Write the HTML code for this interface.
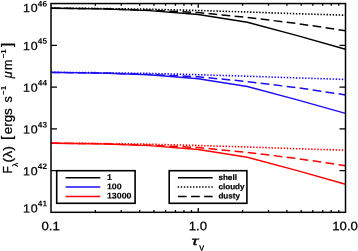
<!DOCTYPE html><html><head><meta charset="utf-8"><style>html,body{margin:0;padding:0;background:#fff}svg{display:block}</style></head><body><svg width="358" height="251" viewBox="0 0 358 251">
<rect width="358" height="251" fill="#fff"/>
<path d="M51.00 8.20 L100.08 8.90 L149.17 10.60 L198.25 14.50 L247.33 22.30 L296.42 35.40 L345.50 49.20" fill="none" stroke="#000" stroke-width="1.45"/>
<path d="M51.00 8.20 L100.08 8.70 L149.17 10.20 L198.25 12.60 L247.33 17.40 L296.42 23.40 L345.50 30.70" fill="none" stroke="#000" stroke-width="1.5" stroke-dasharray="8.7 4.4" stroke-dashoffset="-0.5"/>
<path d="M51.00 8.10 L100.08 8.50 L149.17 9.20 L198.25 10.50 L247.33 12.00 L296.42 13.70 L345.50 15.20" fill="none" stroke="#000" stroke-width="1.6" stroke-dasharray="1.4 1.66" stroke-dashoffset="-0.2"/>
<path d="M51.00 72.40 L100.08 73.10 L149.17 74.80 L198.25 78.70 L247.33 86.50 L296.42 99.60 L345.50 113.40" fill="none" stroke="#1c0cf4" stroke-width="1.45"/>
<path d="M51.00 72.40 L100.08 72.90 L149.17 74.40 L198.25 76.80 L247.33 81.60 L296.42 87.60 L345.50 94.90" fill="none" stroke="#1c0cf4" stroke-width="1.5" stroke-dasharray="8.7 4.4" stroke-dashoffset="-0.5"/>
<path d="M51.00 72.30 L100.08 72.70 L149.17 73.40 L198.25 74.70 L247.33 76.20 L296.42 77.90 L345.50 79.40" fill="none" stroke="#1c0cf4" stroke-width="1.6" stroke-dasharray="1.4 1.66" stroke-dashoffset="-0.2"/>
<path d="M51.00 143.20 L100.08 143.90 L149.17 145.60 L198.25 149.50 L247.33 157.30 L296.42 170.40 L345.50 184.20" fill="none" stroke="#ff0000" stroke-width="1.45"/>
<path d="M51.00 143.20 L100.08 143.70 L149.17 145.20 L198.25 147.60 L247.33 152.40 L296.42 158.40 L345.50 165.70" fill="none" stroke="#ff0000" stroke-width="1.5" stroke-dasharray="8.7 4.4" stroke-dashoffset="-0.5"/>
<path d="M51.00 143.10 L100.08 143.50 L149.17 144.20 L198.25 145.50 L247.33 147.00 L296.42 148.70 L345.50 150.20" fill="none" stroke="#ff0000" stroke-width="1.6" stroke-dasharray="1.4 1.66" stroke-dashoffset="-0.2"/>
<rect x="51.00" y="3.55" width="294.50" height="208.75" fill="none" stroke="#000" stroke-width="1.5"/>
<path d="M95.33 212.30 v-2.20 M95.33 3.55 v2.20 M121.26 212.30 v-2.20 M121.26 3.55 v2.20 M139.65 212.30 v-2.20 M139.65 3.55 v2.20 M153.92 212.30 v-2.20 M153.92 3.55 v2.20 M165.58 212.30 v-2.20 M165.58 3.55 v2.20 M175.44 212.30 v-2.20 M175.44 3.55 v2.20 M183.98 212.30 v-2.20 M183.98 3.55 v2.20 M191.51 212.30 v-2.20 M191.51 3.55 v2.20 M198.25 212.30 v-4.30 M198.25 3.55 v4.30 M242.58 212.30 v-2.20 M242.58 3.55 v2.20 M268.51 212.30 v-2.20 M268.51 3.55 v2.20 M286.90 212.30 v-2.20 M286.90 3.55 v2.20 M301.17 212.30 v-2.20 M301.17 3.55 v2.20 M312.83 212.30 v-2.20 M312.83 3.55 v2.20 M322.69 212.30 v-2.20 M322.69 3.55 v2.20 M331.23 212.30 v-2.20 M331.23 3.55 v2.20 M338.76 212.30 v-2.20 M338.76 3.55 v2.20 M51.00 170.55 h6 M345.50 170.55 h-6 M51.00 128.80 h6 M345.50 128.80 h-6 M51.00 87.05 h6 M345.50 87.05 h-6 M51.00 45.30 h6 M345.50 45.30 h-6" stroke="#000" stroke-width="1.3" fill="none"/>
<rect x="56.7" y="170.7" width="78.4" height="32.6" fill="#fff" stroke="#000" stroke-width="1.6"/>
<rect x="169.2" y="170.7" width="77.7" height="32.6" fill="#fff" stroke="#000" stroke-width="1.6"/>
<path d="M65.6 177.7 H100.3" stroke="#000" stroke-width="1.5"/>
<path d="M65.6 187.1 H100.3" stroke="#1c0cf4" stroke-width="1.5"/>
<path d="M65.6 196.4 H100.3" stroke="#ff0000" stroke-width="1.5"/>
<path d="M178.0 177.7 H212.7" stroke="#000" stroke-width="1.5"/>
<path d="M177.7 187.0 H213" stroke="#000" stroke-width="1.6" stroke-dasharray="1.4 1.66"/>
<path d="M178.0 196.4 H212.7" stroke="#000" stroke-width="1.5" stroke-dasharray="8.7 4.4"/>
<text transform="translate(106.9 179.9) scale(1.07 1) rotate(0.03)" font-family="Liberation Sans, sans-serif" font-size="8.3" font-weight="bold" stroke="#000" stroke-width="0.15">1</text>
<text transform="translate(106.9 189.2) scale(1.07 1) rotate(0.03)" font-family="Liberation Sans, sans-serif" font-size="8.3" font-weight="bold" stroke="#000" stroke-width="0.15">100</text>
<text transform="translate(106.9 198.6) scale(1.07 1) rotate(0.03)" font-family="Liberation Sans, sans-serif" font-size="8.3" font-weight="bold" stroke="#000" stroke-width="0.15">13000</text>
<text transform="translate(218.4 179.9) scale(1.03 1) rotate(0.03)" font-family="Liberation Sans, sans-serif" font-size="7.9" font-weight="bold" stroke="#000" stroke-width="0.2">shell</text>
<text transform="translate(218.4 189.2) scale(1.03 1) rotate(0.03)" font-family="Liberation Sans, sans-serif" font-size="7.9" font-weight="bold" stroke="#000" stroke-width="0.2">cloudy</text>
<text transform="translate(218.4 198.6) scale(1.03 1) rotate(0.03)" font-family="Liberation Sans, sans-serif" font-size="7.9" font-weight="bold" stroke="#000" stroke-width="0.2">dusty</text>
<text transform="translate(22.9 212.5) scale(1.05 1) rotate(0.03)" font-family="Liberation Sans, sans-serif" font-size="11.8" letter-spacing="0.9" stroke="#000" stroke-width="0.25">10</text>
<text transform="translate(37.8 206.3) scale(1.03 1) rotate(0.03)" font-family="Liberation Sans, sans-serif" font-size="8" font-weight="bold">41</text>
<text transform="translate(22.9 175.3) scale(1.05 1) rotate(0.03)" font-family="Liberation Sans, sans-serif" font-size="11.8" letter-spacing="0.9" stroke="#000" stroke-width="0.25">10</text>
<text transform="translate(37.8 169.1) scale(1.03 1) rotate(0.03)" font-family="Liberation Sans, sans-serif" font-size="8" font-weight="bold">42</text>
<text transform="translate(22.9 133.6) scale(1.05 1) rotate(0.03)" font-family="Liberation Sans, sans-serif" font-size="11.8" letter-spacing="0.9" stroke="#000" stroke-width="0.25">10</text>
<text transform="translate(37.8 127.4) scale(1.03 1) rotate(0.03)" font-family="Liberation Sans, sans-serif" font-size="8" font-weight="bold">43</text>
<text transform="translate(22.9 91.8) scale(1.05 1) rotate(0.03)" font-family="Liberation Sans, sans-serif" font-size="11.8" letter-spacing="0.9" stroke="#000" stroke-width="0.25">10</text>
<text transform="translate(37.8 85.6) scale(1.03 1) rotate(0.03)" font-family="Liberation Sans, sans-serif" font-size="8" font-weight="bold">44</text>
<text transform="translate(22.9 50.0) scale(1.05 1) rotate(0.03)" font-family="Liberation Sans, sans-serif" font-size="11.8" letter-spacing="0.9" stroke="#000" stroke-width="0.25">10</text>
<text transform="translate(37.8 43.8) scale(1.03 1) rotate(0.03)" font-family="Liberation Sans, sans-serif" font-size="8" font-weight="bold">45</text>
<text transform="translate(22.9 12.1) scale(1.05 1) rotate(0.03)" font-family="Liberation Sans, sans-serif" font-size="11.8" letter-spacing="0.9" stroke="#000" stroke-width="0.25">10</text>
<text transform="translate(37.8 6.6) scale(1.03 1) rotate(0.03)" font-family="Liberation Sans, sans-serif" font-size="8" font-weight="bold">46</text>
<text transform="translate(50.6 230.2) scale(1.08 1) rotate(0.03)" font-family="Liberation Sans, sans-serif" font-size="12.2" text-anchor="middle" stroke="#000" stroke-width="0.25">0.1</text>
<text transform="translate(197.8 230.2) scale(1.08 1) rotate(0.03)" font-family="Liberation Sans, sans-serif" font-size="12.2" text-anchor="middle" stroke="#000" stroke-width="0.25">1.0</text>
<text transform="translate(345.1 230.2) scale(1.08 1) rotate(0.03)" font-family="Liberation Sans, sans-serif" font-size="12.2" text-anchor="middle" stroke="#000" stroke-width="0.25">10.0</text>
<text transform="translate(191.5 244.9) scale(1.5 1) rotate(0.03)" font-family="Liberation Sans, sans-serif" font-size="12" font-style="italic" stroke="#000" stroke-width="0.35">τ</text>
<text transform="translate(199.1 250.8) rotate(0.03)" font-family="Liberation Sans, sans-serif" font-size="8" font-weight="bold">V</text>
<g transform="translate(11.6 173.5) rotate(-90)"><text x="0.1" y="0.0" font-family="Liberation Sans, sans-serif" font-size="12.0" stroke="#000" stroke-width="0.25">F</text><text x="6.6" y="6.3" font-family="Liberation Sans, sans-serif" font-size="8.0" font-weight="bold">λ</text><text x="11.0" y="0.5" font-family="Liberation Sans, sans-serif" font-size="13.6" textLength="16.4" lengthAdjust="spacingAndGlyphs" stroke="#000" stroke-width="0.25">(λ)</text><text x="33.6" y="0.7" font-family="Liberation Sans, sans-serif" font-size="15.3" stroke="#000" stroke-width="0.25">[</text><text x="39.3" y="0.0" font-family="Liberation Sans, sans-serif" font-size="12.5" textLength="26.0" lengthAdjust="spacingAndGlyphs" stroke="#000" stroke-width="0.25">ergs</text><text x="71.0" y="0.0" font-family="Liberation Sans, sans-serif" font-size="12.5" stroke="#000" stroke-width="0.25">s</text><text x="78.6" y="-5.9" font-family="Liberation Sans, sans-serif" font-size="7.8" textLength="9.0" lengthAdjust="spacingAndGlyphs" font-weight="bold">−1</text><text x="95.3" y="0.0" font-family="Liberation Sans, sans-serif" font-size="12.5" stroke="#000" stroke-width="0.25" font-style="italic">μ</text><text x="103.5" y="0.0" font-family="Liberation Sans, sans-serif" font-size="12.5" stroke="#000" stroke-width="0.25">m</text><text x="115.2" y="-5.9" font-family="Liberation Sans, sans-serif" font-size="7.8" textLength="9.0" lengthAdjust="spacingAndGlyphs" font-weight="bold">−1</text><text x="126.4" y="0.7" font-family="Liberation Sans, sans-serif" font-size="15.3" stroke="#000" stroke-width="0.25">]</text></g>
</svg></body></html>
